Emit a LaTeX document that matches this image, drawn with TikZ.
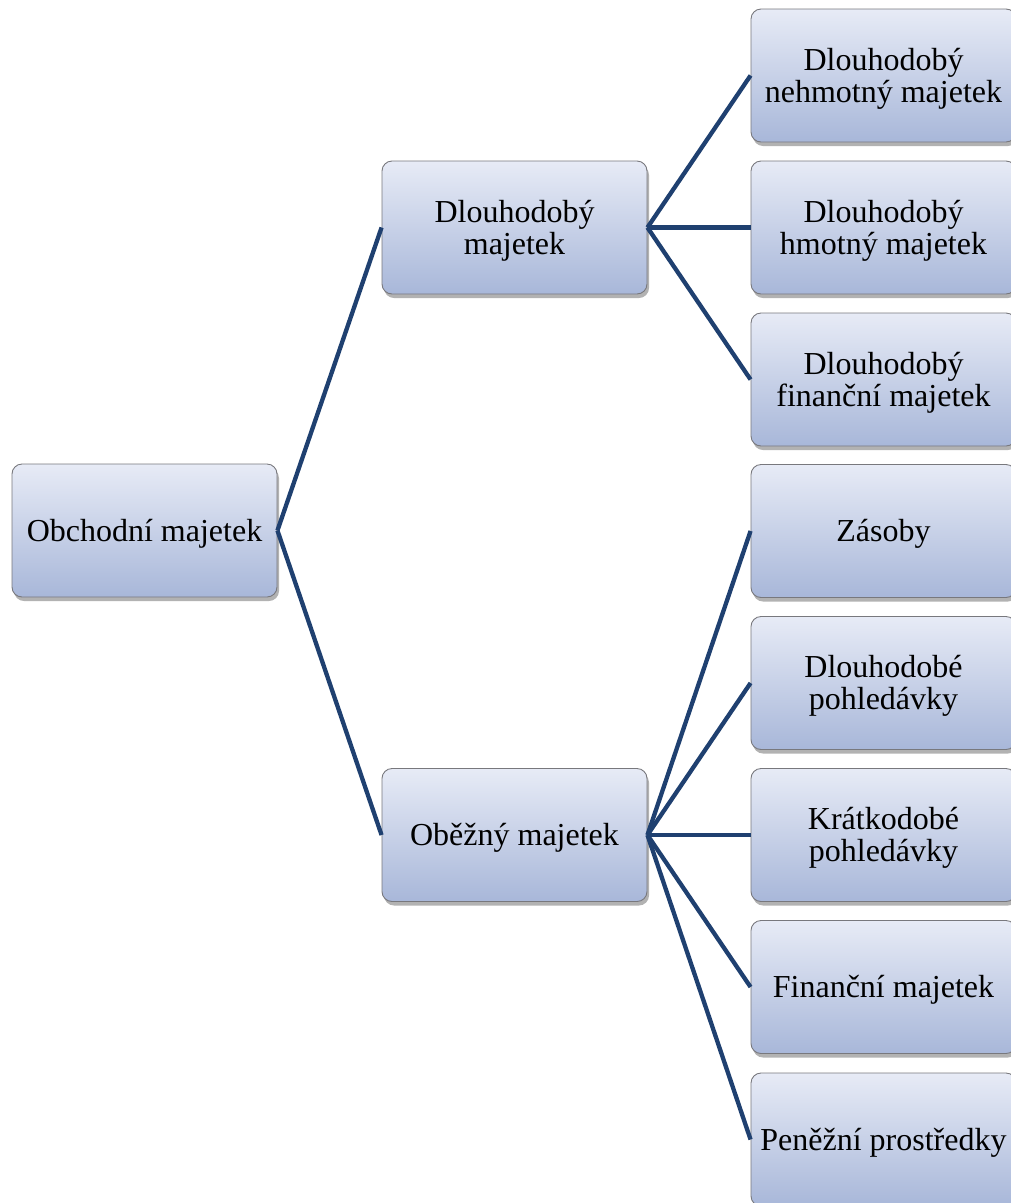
\documentclass[tikz,border=0pt]{standalone}
\usepackage{fontspec}
\setmainfont{Liberation Serif}
\usetikzlibrary{shadows}
\definecolor{linec}{RGB}{31,64,112}
\definecolor{topc}{RGB}{231,235,246}
\definecolor{botc}{RGB}{168,183,217}
\definecolor{edgec}{RGB}{120,120,125}
\begin{document}
\begin{tikzpicture}[x=1pt,y=-1pt,
  txt/.style={align=center, inner sep=0pt, yshift=-3pt,
    font=\fontsize{32}{32}\selectfont},
  box/.style={draw=edgec, line width=0.9pt, rounded corners=10pt,
    minimum width=265pt, minimum height=133pt, inner sep=0pt,
    top color=topc, bottom color=botc,
    drop shadow={shadow xshift=2pt, shadow yshift=-4pt, opacity=0.3, fill=black},
    label={[txt]center:{#1}}},
  conn/.style={draw=linec, line width=4.3pt}]
\useasboundingbox (0,0) rectangle (1011,1203);
\node[box={Obchodní majetek}] (root) at (144.5,530.5) {};
\node[box={Dlouhodobý\\majetek}] (dm) at (514.5,227.5) {};
\node[box={Oběžný majetek}] (om) at (514.5,835) {};
\node[box={Dlouhodobý\\nehmotný majetek}] (a1) at (883.5,75.5) {};
\node[box={Dlouhodobý\\hmotný majetek}] (a2) at (883.5,227.5) {};
\node[box={Dlouhodobý\\finanční majetek}] (a3) at (883.5,379.5) {};
\node[box={Zásoby}] (b1) at (883.5,531) {};
\node[box={Dlouhodobé\\pohledávky}] (b2) at (883.5,683) {};
\node[box={Krátkodobé\\pohledávky}] (b3) at (883.5,835) {};
\node[box={Finanční majetek}] (b4) at (883.5,987) {};
\node[box={Peněžní prostředky}] (b5) at (883.5,1139.5) {};
\draw[conn] (root.east) -- (dm.west);
\draw[conn] (root.east) -- (om.west);
\foreach \n in {a1,a2,a3} \draw[conn] (dm.east) -- (\n.west);
\foreach \n in {b1,b2,b3,b4,b5} \draw[conn] (om.east) -- (\n.west);
\end{tikzpicture}
\end{document}
